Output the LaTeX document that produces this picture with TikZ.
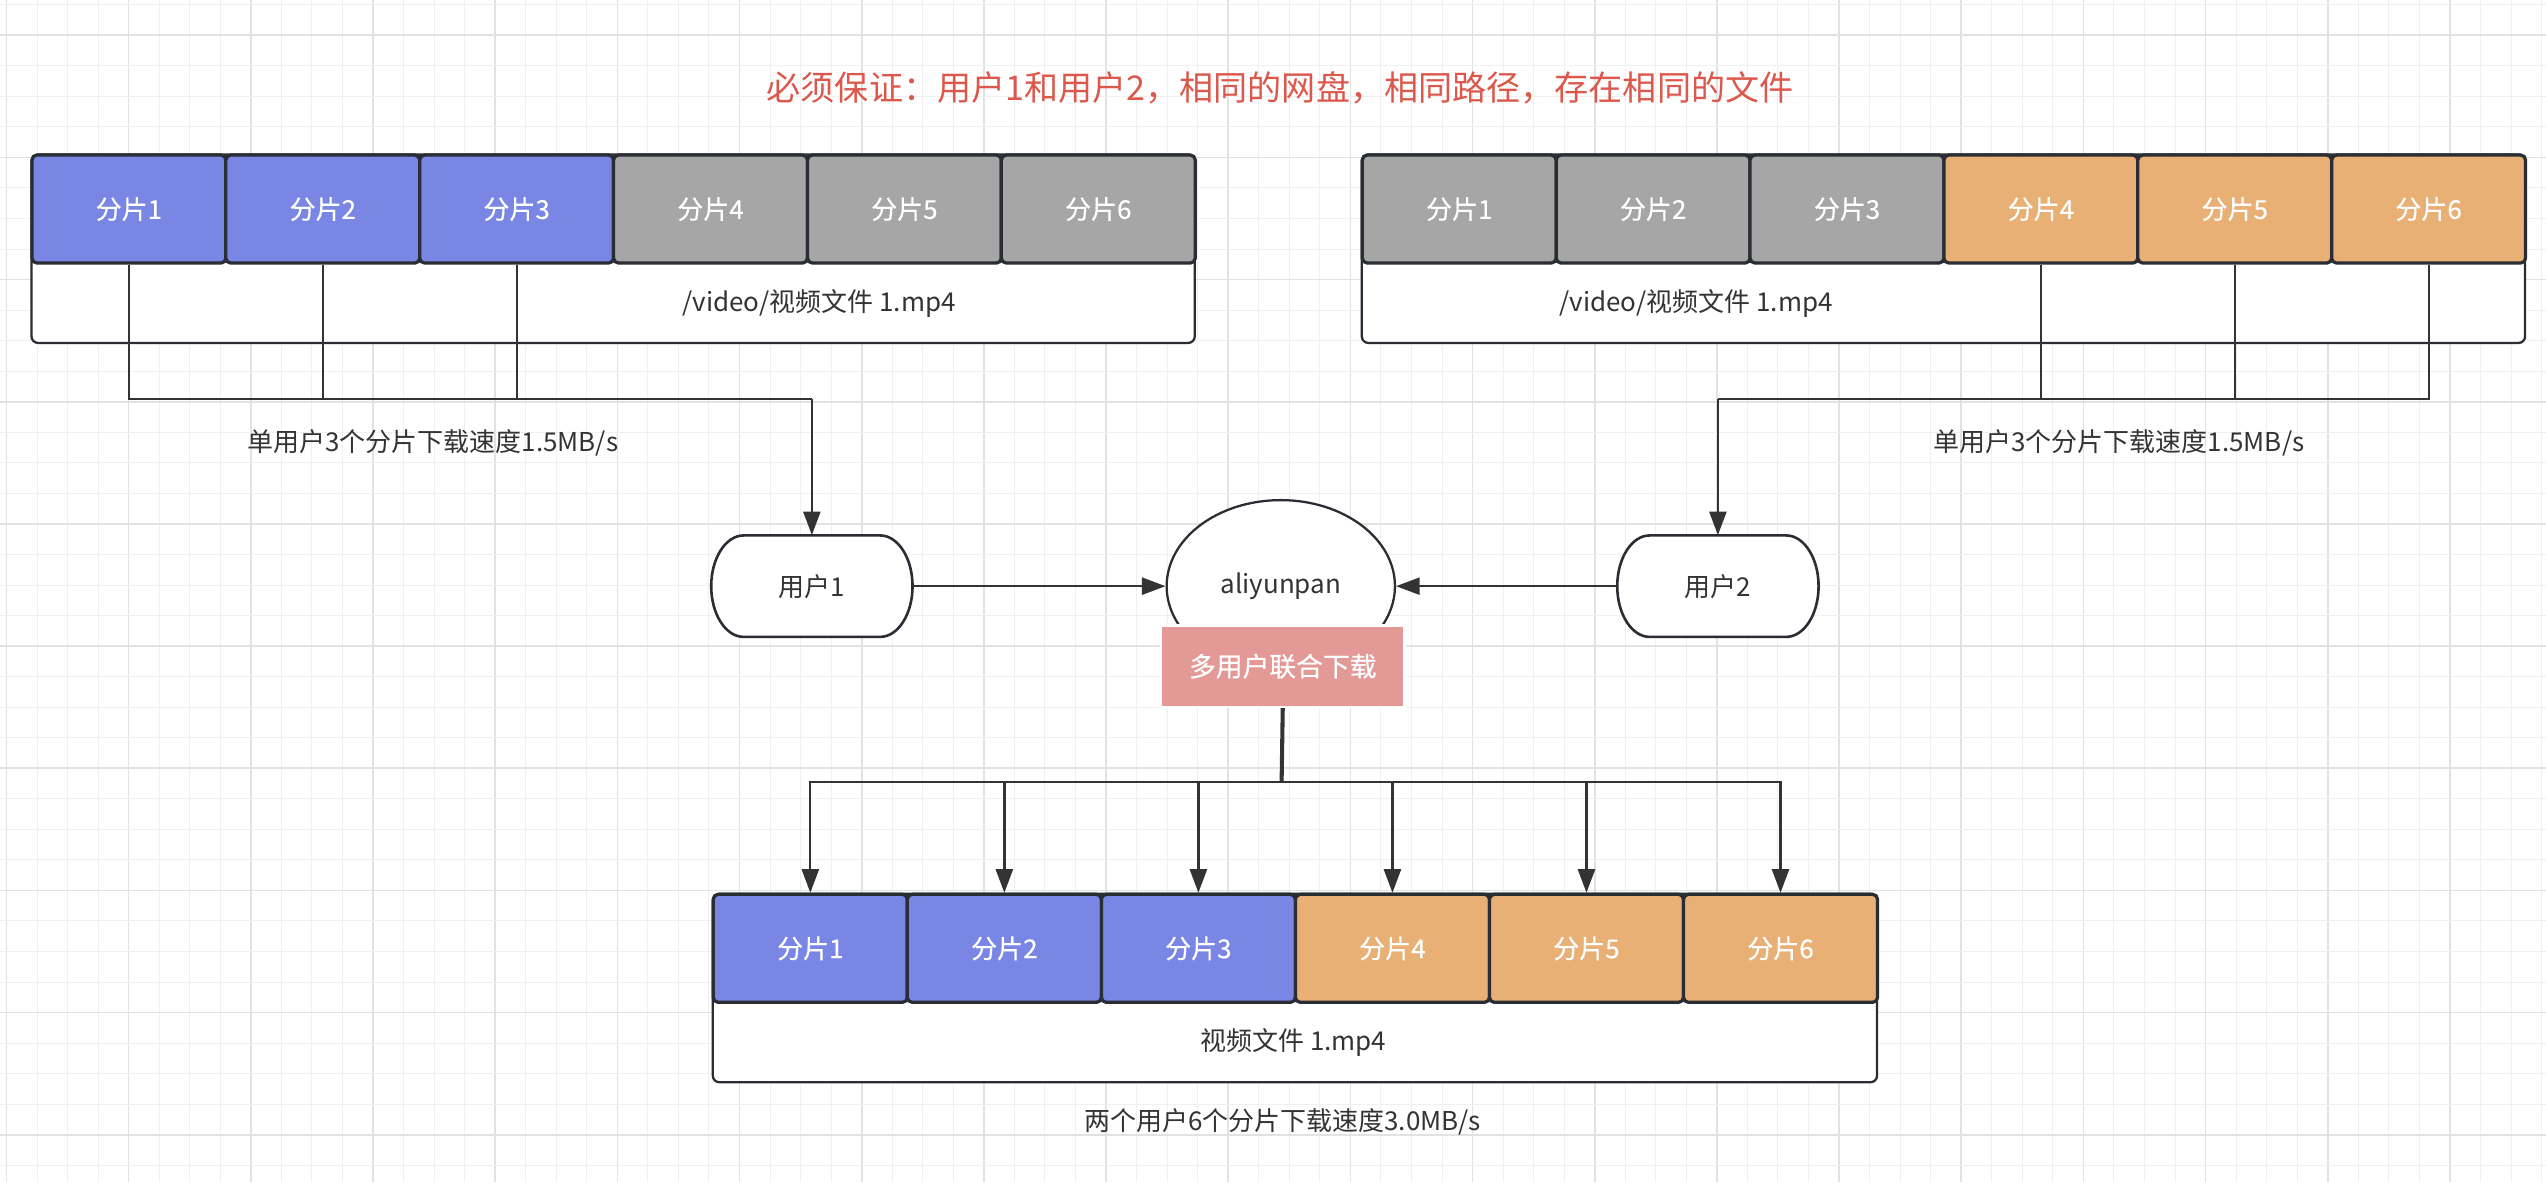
\documentclass[tikz,border=0pt]{standalone}
\usepackage{fontspec}
\setmainfont{Noto Sans CJK SC}[BoldFont={Noto Sans CJK SC}, BoldFeatures={FakeBold=0.35}]
\usetikzlibrary{arrows.meta,shapes.geometric,calc}
\definecolor{tblue}{RGB}{122,134,228}
\definecolor{tgray}{RGB}{166,166,166}
\definecolor{torange}{RGB}{232,176,117}
\definecolor{tred}{RGB}{227,154,150}
\definecolor{ttitle}{RGB}{220,88,76}
\definecolor{tline}{RGB}{51,51,51}
\definecolor{tborder}{RGB}{42,45,52}
\definecolor{ttext}{RGB}{51,51,51}
\definecolor{gminor}{RGB}{240,240,240}
\definecolor{gmajor}{RGB}{226,226,226}
\begin{document}
\begin{tikzpicture}[x=1pt,y=1pt,
  tile/.style={draw=tborder, line width=2pt, rounded corners=3pt, minimum width=119.4pt, minimum height=66.5pt, anchor=north west, text=white, font=\fontsize{16pt}{19pt}\selectfont\bfseries, inner sep=0pt},
  outerbox/.style={draw=tborder, line width=1.4pt, rounded corners=4pt, fill=white, minimum width=716.4pt, minimum height=116pt, anchor=north west, inner sep=0pt},
  lbl/.style={text=ttext, font=\fontsize{16pt}{19pt}\selectfont, inner sep=0pt},
  conn/.style={draw=tline, line width=1.4pt},
  arr/.style={conn, -{Triangle[length=14.5pt,width=10.5pt]}},
  userline/.style={draw=tborder, line width=1.6pt, fill=white},
]
% background and grid
\fill[white] (0,0) rectangle (1568,-728);
\useasboundingbox (0,0) rectangle (1568,-728);
\foreach \k in {0,...,83} {
  \pgfmathsetmacro{\gx}{4.0+\k*18.81}
  \pgfmathtruncatemacro{\m}{mod(\k,4)}
  \ifnum\m=0
    \draw[gmajor, line width=1pt] (\gx,0) -- (\gx,-728);
  \else
    \draw[gminor, line width=0.6pt] (\gx,0) -- (\gx,-728);
  \fi
}
\foreach \k in {0,...,38} {
  \pgfmathsetmacro{\gy}{2.89+\k*18.81}
  \pgfmathtruncatemacro{\m}{mod(\k,4)}
  \ifnum\m=1
    \draw[gmajor, line width=1pt] (0,-\gy) -- (1568,-\gy);
  \else
    \draw[gminor, line width=0.6pt] (0,-\gy) -- (1568,-\gy);
  \fi
}

% title
\node[anchor=west, text=ttitle, font=\fontsize{21pt}{25pt}\selectfont, inner sep=0pt] (title) at (472,-54) {必须保证：用户1和用户2，相同的网盘，相同路径，存在相同的文件};

% outer boxes
\node[outerbox] (L) at (18.7,-94.5) {};
\node[outerbox] (R) at (838,-94.5) {};
\node[outerbox, minimum width=717pt] (B) at (438.3,-549.8) {};

% tiles
\foreach \i/\c in {1/tblue,2/tblue,3/tblue,4/tgray,5/tgray,6/tgray}
  \node[tile, fill=\c] (tl\i) at ({18.7+(\i-1)*119.4},-94.5) {分片\i};
\foreach \i/\c in {1/tgray,2/tgray,3/tgray,4/torange,5/torange,6/torange}
  \node[tile, fill=\c] (tr\i) at ({838+(\i-1)*119.4},-94.5) {分片\i};
\foreach \i/\c in {1/tblue,2/tblue,3/tblue,4/torange,5/torange,6/torange}
  \node[tile, fill=\c, minimum width=119.5pt] (b\i) at ({438.3+(\i-1)*119.5},-549.8) {分片\i};

% file texts
\node[lbl] (fL) at (504.5,-186.6) {/video/视频文件 1.mp4};
\node[lbl] (fR) at (1044.5,-186.6) {/video/视频文件 1.mp4};
\node[lbl] (fB) at (796.5,-642) {视频文件 1.mp4};

% user boxes
\coordinate (c1) at (500,-361);
\coordinate (c2) at (1058,-361);
\foreach \c in {c1,c2}
  \draw[userline] ($(\c)+(-42,31.25)$) -- ($(\c)+(42,31.25)$)
    arc[start angle=90,end angle=-90,x radius=20,y radius=31.25]
    -- ($(\c)+(-42,-31.25)$)
    arc[start angle=270,end angle=90,x radius=20,y radius=31.25] -- cycle;
\node[lbl, minimum width=124pt, minimum height=62.5pt] (u1) at (c1) {用户1};
\node[lbl, minimum width=124pt, minimum height=62.5pt] (u2) at (c2) {用户2};

% cloud ellipse and red box
\node[ellipse, draw=tborder, line width=1.4pt, fill=white, minimum width=140.6pt, minimum height=106pt, lbl] (ell) at (788.8,-361) {aliyunpan};
\node[fill=tred, draw=white, line width=1.5pt, minimum width=150pt, minimum height=50pt, inner sep=0pt, text=white, font=\fontsize{16.5pt}{19pt}\selectfont\bfseries] (rb) at (790,-410.3) {多用户联合下载};

% connectors top-left
\coordinate (jL) at (500,-245.8);
\foreach \i in {1,2,3} \draw[conn] (tl\i.south) |- (jL);
\draw[arr] (jL) -- (u1.north);
% connectors top-right
\coordinate (jR) at (1058,-245.8);
\foreach \i in {4,5,6} \draw[conn] (tr\i.south) |- (jR);
\draw[arr] (jR) -- (u2.north);
% users to cloud
\draw[arr] (u1.east) -- (ell.west);
\draw[arr] (u2.west) -- (ell.east);
% bottom distribution
\coordinate (jB) at (789.3,-481.4);
\draw[conn, line width=2.5pt] (rb.south) -- (jB);
\foreach \i in {1,...,6} \draw[arr] (jB) -| (b\i.north);

% labels
\node[lbl] (s1) at (266.6,-273) {单用户3个分片下载速度1.5MB/s};
\node[lbl] (s2) at (1305,-273) {单用户3个分片下载速度1.5MB/s};
\node[lbl] (s3) at (790,-691) {两个用户6个分片下载速度3.0MB/s};
\end{tikzpicture}
\end{document}
